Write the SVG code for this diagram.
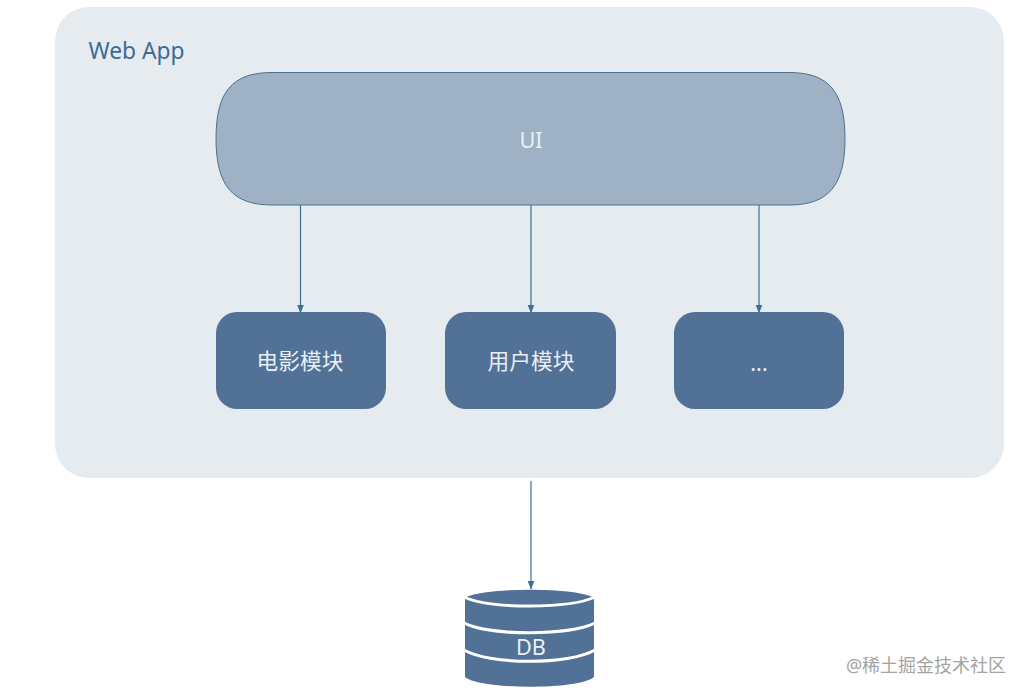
<svg xmlns="http://www.w3.org/2000/svg" width="1027" height="696" viewBox="0 0 1027 696">
<style>
text{font-family:"Noto Sans","Noto Sans CJK SC",sans-serif;text-anchor:middle}
.w{fill:#e9eff4;font-size:21.700px}
.m{fill:#527196}
.c{stroke:#3a7096;stroke-width:1.200;fill:none;marker-end:url(#a)}
.s{fill:none;stroke:#fff;stroke-width:3}
</style>
<defs><marker id="a" markerUnits="userSpaceOnUse" markerWidth="9" markerHeight="8" refX="8.500" refY="3.500" orient="auto"><path d="M0 0L9 3.500L0 7Z" fill="#3a7096"/></marker></defs>
<rect width="1027" height="696" fill="#fff"/>
<g id="webapp"><rect x="55" y="7" width="949" height="471" rx="34" fill="#e6ebef"/>
<text x="136.500" y="59" style="font-size:22.800px;fill:#3c6c96">Web App</text></g>
<g id="ui"><path d="M272 72.500H789C829 72.500 845 92 845 138.500C845 185 829 205 789 205H272C232 205 216 185 216 138.500C216 92 232 72.500 272 72.500Z" fill="#9fb1c5" stroke="#4d7091" stroke-width="1"/>
<text class="w" x="531" y="148">UI</text></g>
<g id="movie"><rect class="m" x="216" y="312" width="170" height="97" rx="21"/><text class="w" x="300" y="369">电影模块</text></g>
<g id="user"><rect class="m" x="445" y="312" width="171" height="97" rx="21"/><text class="w" x="531" y="369">用户模块</text></g>
<g id="more"><rect class="m" x="674" y="312" width="170" height="97" rx="21"/><text class="w" x="759" y="371">...</text></g>
<g id="db"><path class="m" d="M465 598C480 587 579 587 594 598V677C579 690 480 690 465 677Z"/>
<path class="s" d="M464 597C490 609 569 609 595 597M464 623C490 636 569 636 595 623M464 650C490 665 569 665 595 650"/>
<text class="w" x="531" y="655">DB</text></g>
<g id="connectors">
<path class="c" d="M300.500 205V313"/><path class="c" d="M531 205V313"/><path class="c" d="M759 205V313"/><path class="c" d="M531 481V589"/>
</g>
<text x="926" y="672" style="font-size:18px;fill:#a3a3a3">@稀土掘金技术社区</text>
</svg>
